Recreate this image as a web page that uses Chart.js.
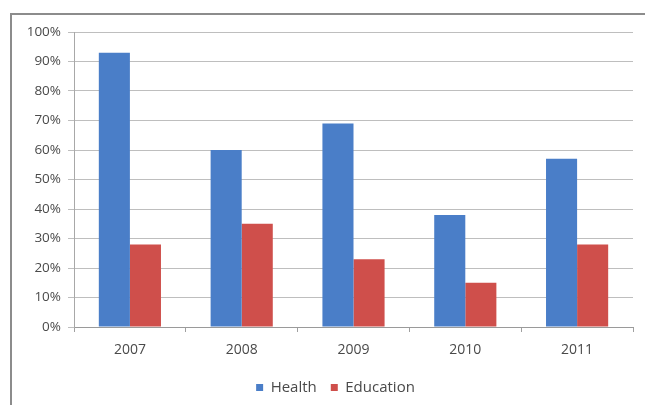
<!DOCTYPE html>
<html>
<head>
<meta charset="utf-8">
<script src="https://cdn.jsdelivr.net/npm/chart.js@4.4.1/dist/chart.umd.min.js"></script>
<style>
  html, body { margin: 0; padding: 0; background: #fff; overflow: hidden; }
  #frame {
    position: absolute; left: 10px; top: 13px;
    width: 700px; height: 420px;
    border: 2px solid #8c8c8c;
    box-sizing: border-box;
  }
  #chart { position: absolute; left: 0; top: 0; }
</style>
</head>
<body>
<div id="frame"></div>
<canvas id="chart" width="645" height="405"></canvas>
<script>
  // data (percent)
  const years = ['2007', '2008', '2009', '2010', '2011'];
  const health = [93, 60, 69, 38, 57];
  const education = [28, 35, 23, 15, 28];

  const textColor = '#4a4a4a';
  const fontFamily = '"Open Sans", "DejaVu Sans", sans-serif';

  // legend sits a bit right of the canvas centre in the original
  const legendShift = {
    id: 'legendShift',
    afterLayout: function(chart) {
      chart.legend.left += 19;
      chart.legend.right += 19;
    }
  };

  let ctx = document.getElementById('chart').getContext('2d');

  new Chart(ctx, {
    type: 'bar',
    data: {
      labels: years,
      datasets: [
        {
          label: 'Health',
          data: health,
          backgroundColor: '#4a7ec8',
          borderWidth: 0
        },
        {
          label: 'Education',
          data: education,
          backgroundColor: '#cf4f4b',
          borderWidth: 0
        }
      ]
    },
    options: {
      responsive: false,
      animation: false,
      layout: { padding: { left: 0, right: 12, top: 32, bottom: 0 } },
      datasets: {
        bar: { categoryPercentage: 0.556, barPercentage: 1.0 }
      },
      plugins: {
        tooltip: { enabled: false },
        legend: {
          position: 'bottom',
          labels: {
            boxWidth: 7,
            boxHeight: 7,
            padding: 14,
            color: textColor,
            font: { family: fontFamily, size: 15 }
          }
        }
      },
      scales: {
        x: {
          afterFit: function(scale) { scale.height = 39; },
          grid: {
            offset: true,
            drawOnChartArea: false,
            drawTicks: true,
            tickLength: 5,
            color: '#a0a0a0'
          },
          border: { color: '#9a9a9a', width: 1 },
          ticks: {
            padding: 10,
            color: textColor,
            font: { family: fontFamily, size: 14 }
          }
        },
        y: {
          min: 0,
          max: 100,
          afterFit: function(scale) { scale.width = 74; },
          grid: {
            color: '#bebebe',
            tickLength: 6
          },
          border: { color: '#a8a8a8', width: 1 },
          ticks: {
            stepSize: 10,
            padding: 7,
            color: textColor,
            font: { family: fontFamily, size: 13.5 },
            callback: function(v) { return v + '%'; }
          }
        }
      }
    },
    plugins: [legendShift]
  });
</script>
</body>
</html>
